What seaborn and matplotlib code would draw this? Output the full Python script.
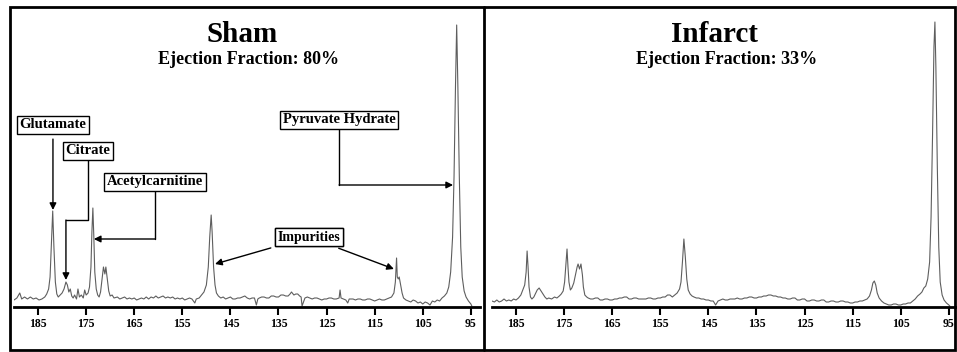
import matplotlib
matplotlib.use("Agg")
import matplotlib.pyplot as plt
import seaborn as sns
import pandas as pd
from matplotlib.patches import Rectangle
from matplotlib.lines import Line2D

# Chemical shift (ppm) / signal intensity
sham_ppm = [190.0, 189.4, 188.8, 188.4, 187.8, 187.2, 186.6, 186.0, 185.4, 184.8, 184.2, 183.6,
            183.2, 182.8, 182.5, 182.2, 181.95, 181.7, 181.4, 181.1, 180.8, 180.4, 180.0, 179.6,
            179.2, 178.9, 178.6, 178.3, 178.0, 177.7, 177.4, 177.0, 176.7, 176.4, 176.0, 175.6,
            175.3, 175.0, 174.6, 174.3, 174.0, 173.8, 173.6, 173.4, 173.2, 172.9, 172.6, 172.3,
            172.0, 171.7, 171.4, 171.1, 170.9, 170.6, 170.3, 170.0, 169.6, 169.2, 168.5, 168.0,
            167.5, 167.0, 166.5, 166.0, 165.5, 165.0, 164.5, 164.0, 163.5, 163.0, 162.5, 162.0,
            161.5, 161.0, 160.5, 160.0, 159.5, 159.0, 158.5, 158.0, 157.5, 157.0, 156.5, 156.0,
            155.5, 155.0, 154.5, 154.0, 153.5, 153.0, 152.4, 152.1, 151.5, 151.0, 150.5, 150.0,
            149.6, 149.3, 149.0, 148.8, 148.5, 148.2, 147.9, 147.5, 147.0, 146.5, 146.0, 145.5,
            145.0, 144.5, 144.0, 143.5, 143.0, 142.5, 142.0, 141.5, 141.0, 140.5, 140.0, 139.6,
            139.3, 139.0, 138.5, 138.0, 137.5, 137.0, 136.5, 136.0, 135.5, 135.0, 134.5, 134.0,
            133.5, 133.0, 132.6, 132.3, 131.8, 131.4, 131.0, 130.6, 130.3, 130.1, 129.5, 129.0,
            128.5, 128.0, 127.5, 127.0, 126.5, 126.0, 125.5, 125.0, 124.5, 124.0, 123.5, 123.0,
            122.4, 122.2, 122.0, 121.5, 121.0, 120.6, 120.3, 119.5, 119.0, 118.5, 118.0, 117.5,
            117.0, 116.5, 116.0, 115.5, 115.0, 114.5, 114.0, 113.5, 113.0, 112.5, 112.0, 111.5,
            111.0, 110.7, 110.45, 110.3, 110.1, 109.9, 109.6, 109.3, 109.0, 108.5, 108.0, 107.5,
            107.0, 106.5, 106.0, 105.5, 105.0, 104.5, 104.0, 103.5, 103.0, 102.5, 102.0, 101.5,
            101.0, 100.5, 100.0, 99.6, 99.2, 98.8, 98.5, 98.2, 97.95, 97.7, 97.4, 97.1, 96.8,
            96.4, 96.0, 95.5, 95.0, 94.8]
sham_int = [7, 9, 14, 8, 10, 8, 10, 8, 9, 7, 8, 10,
            13, 18, 30, 65, 96, 60, 25, 13, 10, 12, 14, 18,
            25, 22, 15, 18, 11, 9, 12, 8, 18, 10, 12, 9,
            17, 12, 14, 20, 40, 75, 99, 70, 35, 18, 12, 10,
            15, 28, 40, 33, 40, 28, 16, 11, 12, 9, 10, 8,
            9, 10, 8, 9, 8, 9, 7, 8, 9, 8, 10, 8,
            10, 9, 11, 9, 10, 11, 9, 10, 9, 10, 8, 9,
            8, 9, 7, 8, 9, 8, 4, 8, 9, 12, 15, 22,
            40, 70, 92, 75, 40, 22, 14, 11, 9, 10, 8, 9,
            10, 8, 8, 9, 9, 10, 11, 9, 8, 9, 9, 2,
            8, 9, 10, 10, 9, 9, 11, 11, 10, 10, 12, 12,
            11, 11, 13, 15, 12, 13, 13, 11, 10, 1, 9, 10,
            9, 8, 9, 9, 8, 7, 8, 8, 9, 9, 8, 8,
            9, 17, 9, 8, 7, 4, 8, 8, 7, 8, 8, 7,
            7, 8, 8, 7, 6, 7, 8, 7, 7, 8, 9, 10,
            14, 25, 49, 30, 28, 30, 22, 14, 9, 7, 6, 5,
            7, 6, 4, 5, 3, 5, 4, 2, 6, 5, 7, 6,
            9, 11, 14, 20, 35, 70, 130, 220, 282, 220, 130, 60, 30,
            16, 10, 6, 3, 1]

infarct_ppm = [190.0, 189.5, 189.0, 188.5, 188.0, 187.5, 187.0, 186.5, 186.0, 185.5, 185.0, 184.5,
               184.0, 183.6, 183.2, 182.9, 182.7, 182.5, 182.3, 182.0, 181.7, 181.3, 181.0, 180.6,
               180.2, 179.8, 179.4, 179.0, 178.6, 178.2, 177.6, 177.0, 176.5, 176.0, 175.6, 175.2,
               174.9, 174.6, 174.4, 174.2, 174.0, 173.7, 173.4, 173.0, 172.6, 172.3, 172.1, 171.8,
               171.5, 171.2, 171.0, 170.7, 170.3, 170.0, 169.5, 169.0, 168.5, 168.0, 167.5, 167.0,
               166.5, 166.0, 165.5, 165.0, 164.5, 164.0, 163.5, 163.0, 162.5, 162.0, 161.5, 161.0,
               160.5, 160.0, 159.5, 159.0, 158.5, 158.0, 157.5, 157.0, 156.5, 156.0, 155.5, 155.0,
               154.5, 154.0, 153.5, 153.0, 152.5, 152.0, 151.5, 151.0, 150.7, 150.4, 150.1, 149.8,
               149.5, 149.2, 148.8, 148.4, 148.0, 147.5, 147.0, 146.5, 146.0, 145.5, 145.0, 144.5,
               144.0, 143.5, 143.0, 142.5, 142.0, 141.5, 141.0, 140.5, 140.0, 139.5, 139.0, 138.5,
               138.0, 137.5, 137.0, 136.5, 136.0, 135.5, 135.0, 134.5, 134.0, 133.5, 133.0, 132.5,
               132.0, 131.5, 131.0, 130.5, 130.0, 129.5, 129.0, 128.5, 128.0, 127.5, 127.0, 126.5,
               126.0, 125.5, 125.0, 124.5, 124.0, 123.5, 123.0, 122.5, 122.0, 121.5, 121.0, 120.5,
               120.0, 119.5, 119.0, 118.5, 118.0, 117.5, 117.0, 116.5, 116.0, 115.5, 115.0, 114.5,
               114.0, 113.5, 113.0, 112.5, 112.0, 111.5, 111.1, 110.8, 110.5, 110.2, 109.9, 109.5,
               109.0, 108.5, 108.0, 107.5, 107.0, 106.5, 106.0, 105.5, 105.0, 104.5, 104.0, 103.5,
               103.0, 102.5, 102.0, 101.5, 101.0, 100.6, 100.2, 99.8, 99.4, 99.0, 98.7, 98.4,
               98.1, 97.9, 97.7, 97.4, 97.1, 96.8, 96.4, 96.0, 95.5, 95.0, 94.8]
infarct_int = [6, 5, 7, 5, 6, 8, 6, 7, 6, 8, 7, 9,
               12, 17, 22, 35, 56, 40, 20, 10, 8, 10, 13, 17,
               19, 16, 13, 10, 8, 9, 8, 10, 9, 11, 13, 16,
               25, 45, 58, 40, 25, 17, 19, 24, 33, 40, 43, 38,
               43, 32, 20, 12, 10, 9, 8, 8, 9, 9, 7, 7,
               8, 8, 7, 7, 8, 8, 9, 9, 10, 10, 8, 8,
               9, 9, 8, 8, 8, 8, 9, 9, 8, 8, 9, 9,
               10, 10, 12, 12, 10, 12, 14, 18, 25, 45, 68, 50,
               28, 17, 13, 11, 10, 9, 9, 8, 8, 7, 7, 6,
               6, 2, 6, 7, 8, 7, 7, 8, 8, 8, 9, 8,
               8, 9, 9, 10, 10, 9, 9, 10, 10, 11, 11, 12,
               12, 11, 11, 10, 10, 9, 9, 8, 8, 9, 9, 7,
               7, 8, 8, 6, 6, 7, 7, 6, 6, 7, 7, 5,
               5, 6, 6, 5, 5, 6, 6, 5, 5, 4, 4, 5,
               5, 6, 6, 7, 8, 11, 17, 24, 26, 22, 14, 9,
               6, 4, 3, 2, 2, 3, 3, 2, 2, 3, 3, 4,
               4, 6, 8, 11, 13, 15, 19, 21, 28, 45, 90, 170,
               260, 285, 240, 140, 60, 25, 12, 7, 4, 2, 1]

panel_titles = ["Sham", "Infarct"]
ejection_fractions = ["80%", "33%"]
tick_values = [185, 175, 165, 155, 145, 135, 125, 115, 105, 95]

sns.set_style("white")
plt.rcParams["font.family"] = ["Liberation Serif", "DejaVu Serif"]
plt.rcParams["font.weight"] = "bold"
plt.rcParams["text.color"] = "black"
plt.rcParams["xtick.color"] = "black"

fig = plt.figure(figsize=(9.57, 3.52), dpi=100)

spectra = [
    pd.DataFrame({"ppm": sham_ppm, "intensity": sham_int}),
    pd.DataFrame({"ppm": infarct_ppm, "intensity": infarct_int}),
]
lefts = [14 / 957, 492 / 957]
axes = []
for i, df in enumerate(spectra):
    ax = fig.add_axes([lefts[i], 45 / 352, 466 / 957, 300 / 352])
    sns.lineplot(data=df, x="ppm", y="intensity", ax=ax, sort=False, estimator=None,
                 color="#5e5e5e", linewidth=0.8)
    ax.set_xlim(190, 93.1)
    ax.set_ylim(0, 300)
    for s in ["top", "left", "right"]:
        ax.spines[s].set_visible(False)
    ax.spines["bottom"].set_linewidth(2)
    ax.spines["bottom"].set_color("black")
    ax.set_xticks(tick_values)
    ax.set_xticklabels([str(t) for t in tick_values], fontsize=8.5, fontweight="bold",
                       color="black")
    ax.tick_params(axis="x", direction="out", length=6, width=1.5, pad=2, bottom=True)
    ax.set_yticks([])
    ax.set_xlabel("")
    ax.set_ylabel("")
    ax.patch.set_alpha(0)
    ax.text(142.5 + i * 1.2, 272, panel_titles[i], ha="center", va="center",
            fontsize=21, fontweight="bold", color="black")
    ax.text(141.2, 247, "Ejection Fraction: " + ejection_fractions[i], ha="center",
            va="center", fontsize=13, fontweight="bold", color="black")
    axes.append(ax)

ax = axes[0]
box = dict(boxstyle="square,pad=0.2", fc="white", ec="black", lw=1)
arrow = dict(arrowstyle="-|>", color="black", lw=1, mutation_scale=10, shrinkA=0, shrinkB=0)
lab = dict(ha="center", va="center", fontsize=10.5, fontweight="bold", color="black",
           bbox=box, zorder=5)

# Glutamate: straight down
ax.annotate("Glutamate", xy=(181.9, 97), xytext=(181.9, 182),
            arrowprops=dict(arrow, shrinkA=3), **lab)

# Citrate: elbow path
ax.plot([174.6, 174.6, 179.2], [156, 87, 87], color="black", lw=1, zorder=3)
ax.annotate("", xy=(179.2, 27), xytext=(179.2, 87), arrowprops=arrow)
ax.text(174.6, 156, "Citrate", **lab)

# Acetylcarnitine
ax.plot([160.7, 160.7], [125, 68], color="black", lw=1, zorder=3)
ax.annotate("", xy=(173.4, 68), xytext=(160.7, 68), arrowprops=arrow)
ax.text(160.7, 125, "Acetylcarnitine", **lab)

# Pyruvate hydrate
ax.plot([122.4, 122.4], [187, 122], color="black", lw=1, zorder=3)
ax.annotate("", xy=(98.7, 122), xytext=(122.4, 122), arrowprops=arrow)
ax.text(122.4, 187, "Pyruvate Hydrate", **lab)

# Impurities: two diagonal arrows
imp = dict(lab, fontsize=10)
ax.annotate("Impurities", xy=(148.2, 43), xytext=(128.7, 70),
            arrowprops=dict(arrow, shrinkA=3), **imp)
ax.annotate("Impurities", xy=(111.0, 38), xytext=(128.7, 70),
            arrowprops=dict(arrow, shrinkA=3), **imp)

# outer frame and divider
fig.add_artist(Rectangle((10 / 957, 2 / 352), 945 / 957, 343 / 352, transform=fig.transFigure,
                         fill=False, ec="black", lw=2))
fig.add_artist(Line2D([484 / 957, 484 / 957], [2 / 352, 345 / 352], transform=fig.transFigure,
                      color="black", lw=2))

fig.savefig("out.png", dpi=100)
